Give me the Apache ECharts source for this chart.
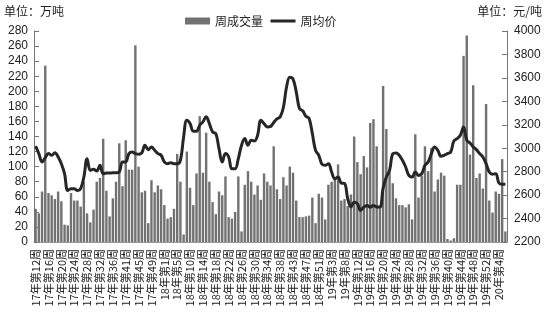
<!DOCTYPE html>
<html>
<head>
<meta charset="utf-8">
<script src="https://cdn.jsdelivr.net/npm/echarts@6/dist/echarts.min.js"></script>
<style>
  html, body { margin: 0; padding: 0; background: #fff; }
  #main { width: 548px; height: 320px; }
</style>
</head>
<body>
<div id="main"></div>
<script>
// 周次（2017第12周 - 2020第6周），缺节假日周
const weeks17 = [12, 13, 14, 15, 16, 17, 18, 19, 20, 21, 22, 23, 24, 25, 26, 27, 28, 29, 30, 31, 32, 33, 34, 35, 36, 37, 38, 39, 41, 42, 43, 44, 45, 46, 47, 48, 49, 50, 51, 52]
const weeks18 = [1, 2, 3, 4, 5, 6, 8, 9, 10, 11, 12, 13, 14, 15, 16, 17, 18, 19, 20, 21, 22, 23, 24, 25, 26, 27, 28, 29, 30, 31, 32, 33, 34, 35, 36, 37, 38, 39, 41, 42, 43, 44, 45, 46, 47, 48, 49, 50, 51, 52]
const weeks19 = [1, 2, 3, 4, 5, 7, 8, 9, 10, 11, 12, 13, 14, 15, 16, 17, 18, 19, 20, 21, 22, 23, 24, 25, 26, 27, 28, 29, 30, 31, 32, 33, 34, 35, 36, 37, 38, 39, 40, 41, 42, 43, 44, 45, 46, 47, 48, 49, 50, 51, 52]
const weeks20 = [1, 2, 3, 4, 5, 6]

// 周成交量（万吨）
const volume = [
  44, 38, 67, 234, 65, 62, 57, 67, 54, 23,
  22, 65, 55, 55, 47, 80, 38, 26, 43, 80,
  85, 137, 68, 34, 58, 80, 131, 74, 135, 96,
  96, 261, 100, 66, 68, 25, 82, 66, 75, 70,
  49, 31, 33, 44, 117, 80, 10, 120, 72, 49,
  91, 167, 92, 145, 80, 53, 37, 67, 62, 87,
  33, 31, 40, 87, 14, 76, 94, 80, 63, 75,
  56, 91, 80, 75, 127, 70, 57, 86, 75, 100,
  92, 55, 33, 33, 34, 35, 59, 25, 64, 59,
  30, 76, 80, 83, 103, 55, 57, 48, 63, 140,
  106, 90, 114, 99, 158, 163, 127, 45, 207, 150,
  93, 78, 58, 49, 49, 46, 50, 30, 143, 59,
  88, 127, 94, 125, 67, 83, 92, 88, 4, 2,
  5, 76, 76, 247, 274, 116, 208, 85, 91, 71,
  183, 55, 39, 67, 64, 110, 14
]

// 周均价（元/吨）
const price = [
  3017, 2954, 2883, 2920, 2954, 2940, 2962, 2925, 2868, 2783,
  2640, 2655, 2655, 2640, 2655, 2755, 2911, 2811, 2820, 2805,
  2854, 2783, 2788, 2788, 2790, 2790, 2797, 2883, 2883, 2954,
  2968, 2954, 2948, 2960, 3025, 2988, 3011, 2982, 2954, 2940,
  2883, 2868, 2877, 2868, 2868, 2897, 3096, 3239, 3210, 3145,
  3145, 3196, 3225, 3268, 3210, 3139, 3125, 2996, 2883, 2954,
  2925, 2825, 2825, 2911, 3025, 3082, 3025, 3068, 3062, 3111,
  3239, 3210, 3182, 3185, 3220, 3250, 3267, 3347, 3524, 3605,
  3590, 3481, 3339, 3319, 3273, 3253, 3125, 2982, 2940, 2863,
  2854, 2868, 2797, 2740, 2754, 2703, 2700, 2570, 2500, 2540,
  2527, 2470, 2498, 2512, 2498, 2512, 2498, 2498, 2660, 2754,
  2811, 2953, 2960, 2940, 2897, 2840, 2768, 2754, 2797, 2768,
  2783, 2854, 2883, 2954, 3011, 2982, 2931, 2940, 2954, 2968,
  3062, 3082, 3111, 3182, 3068, 3045, 3011, 2988, 2954, 2925,
  2868, 2797, 2777, 2783, 2703, 2692, 2692
]

const categories = []
;[[17, weeks17], [18, weeks18], [19, weeks19], [20, weeks20]].forEach(([yy, list]) => {
  list.forEach(w => categories.push(yy + '年第' + w + '周'))
})

const cjk = '"Noto Sans CJK SC", sans-serif'
const num = '"Liberation Sans", Arial, sans-serif'

const chart = echarts.init(document.getElementById('main'))
chart.setOption({
  animation: false,
  backgroundColor: '#fff',
  textStyle: { fontFamily: cjk },
  graphic: [
    { type: 'text', left: 4, top: 5, style: { text: '单位：万吨', font: '12px ' + cjk, fill: '#222' } },
    { type: 'text', right: 6, top: 5, style: { text: '单位：元/吨', font: '12px ' + cjk, fill: '#222' } }
  ],
  legend: {
    left: 180,
    top: 10,
    itemWidth: 25,
    itemHeight: 7,
    itemGap: 6,
    textStyle: { fontSize: 12, color: '#222', fontFamily: cjk },
    data: [
      { name: '周成交量', icon: 'rect' },
      { name: '周均价', itemStyle: { opacity: 0 }, lineStyle: { color: '#262626', width: 3 } }
    ]
  },
  grid: { left: 34, right: 41, top: 31, bottom: 78 },
  xAxis: {
    type: 'category',
    data: categories,
    axisLine: { lineStyle: { color: '#999', width: 1 } },
    axisTick: { show: false },
    axisLabel: {
      interval: 3,
      rotate: 90,
      margin: 7,
      fontSize: 11,
      color: '#222',
      fontFamily: cjk
    }
  },
  yAxis: [
    {
      type: 'value',
      min: 0,
      max: 280,
      interval: 20,
      axisLine: { show: true, lineStyle: { color: '#777' } },
      axisTick: { show: true, inside: true, length: 5, lineStyle: { color: '#777' } },
      splitLine: { show: false },
      axisLabel: { margin: 6, fontSize: 12, color: '#222', fontFamily: num }
    },
    {
      type: 'value',
      min: 2200,
      max: 4000,
      interval: 200,
      position: 'right',
      axisLine: { show: true, lineStyle: { color: '#777' } },
      axisTick: { show: true, inside: true, length: 5, lineStyle: { color: '#777' } },
      splitLine: { show: false },
      axisLabel: { margin: 7, fontSize: 12, color: '#222', fontFamily: num, formatter: v => String(v) }
    }
  ],
  series: [
    {
      name: '周成交量',
      type: 'bar',
      data: volume,
      barCategoryGap: '25%',
      itemStyle: { color: '#727272' }
    },
    {
      name: '周均价',
      type: 'line',
      yAxisIndex: 1,
      data: price,
      symbol: 'none',
      smooth: 0.4,
      lineStyle: { color: '#262626', width: 3 },
      itemStyle: { color: '#262626' }
    }
  ]
})
</script>
</body>
</html>
